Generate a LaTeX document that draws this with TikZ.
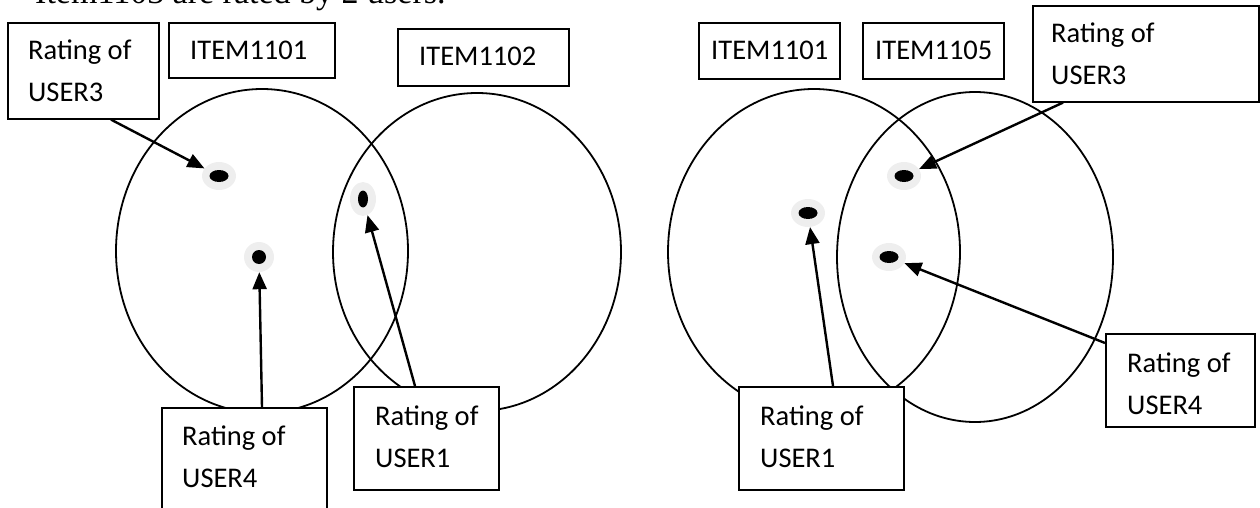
\documentclass[tikz,border=0pt]{standalone}
\usepackage{fontspec}
\setmainfont{Carlito}
\newfontfamily\bodyserif{Liberation Serif}
\usetikzlibrary{arrows.meta,calc,shapes.geometric}
\definecolor{halogray}{RGB}{238,238,238}
\newcommand\twoline[2]{\vtop{\hbox{#1}\hbox{#2}}}

\begin{document}
\begin{tikzpicture}[x=1pt,y=-1pt,
  box/.style={draw, fill=white, line width=1.6pt, inner sep=0pt, anchor=north west},
  ring/.style={ellipse, draw, line width=1.8pt, inner sep=0pt},
  halo/.style={ellipse, fill=halogray, inner sep=0pt},
  blob/.style={ellipse, fill=black, inner sep=0pt},
  arr/.style={line width=2.4pt, -{Triangle[length=17pt,width=14pt]}},
  txt/.style={anchor=base west, inner sep=0pt, font=\fontsize{28.5}{42}\selectfont},
]
\useasboundingbox (0,0) rectangle (1260,508);

% caption line running into the top edge
\node[anchor=base west, inner sep=0pt, font=\bodyserif\fontsize{34}{40}\selectfont]
  (cap) at (35,4) {Item1103 are rated by 2 users.};

% ---------- circles ----------
\node[ring, minimum width=292pt, minimum height=324pt] (cA) at (262,251) {};
\node[ring, minimum width=288pt, minimum height=318pt] (cB) at (477,252) {};
\node[ring, minimum width=292pt, minimum height=326pt] (cC) at (814,252) {};
\node[ring, minimum width=276pt, minimum height=330pt] (cD) at (975,257) {};

% ---------- left pair: ITEM1101 / ITEM1102 ----------
\node[box, minimum width=151pt, minimum height=96pt] (lu3) at (7,22) {};
\node[txt] at ($(lu3.north west)+(21,38)$) {\twoline{Rating of}{USER3}};
\node[box, minimum width=166pt, minimum height=55pt] (li1) at (168,22) {};
\node[txt] at ($(li1.north west)+(22,38)$) {ITEM1101};
\node[box, minimum width=171pt, minimum height=57pt] (li2) at (397,28) {};
\node[txt] at ($(li2.north west)+(22,38)$) {ITEM1102};
\node[box, minimum width=165pt, minimum height=120pt] (lu4) at (161,407) {};
\node[txt] at ($(lu4.north west)+(21,38)$) {\twoline{Rating of}{USER4}};
\node[box, minimum width=145pt, minimum height=103pt] (lu1) at (353,386) {};
\node[txt] at ($(lu1.north west)+(22,39)$) {\twoline{Rating of}{USER1}};

\node[halo, minimum width=34pt, minimum height=28pt] (ld3) at (219,176) {};
\node[blob, minimum width=19pt, minimum height=12pt] at (ld3) {};
\node[halo, minimum width=26pt, minimum height=34pt] (ld1) at (363,199) {};
\node[blob, minimum width=10pt, minimum height=17pt] at (ld1) {};
\node[halo, minimum width=30pt, minimum height=30pt] (ld4) at (259,257) {};
\node[blob, minimum width=14pt, minimum height=14pt] at (ld4) {};

\coordinate (lu3s) at ($(lu3.south west)+(104,0)$);
\coordinate (lu4s) at ($(lu4.north west)+(101,0)$);
\coordinate (lu1s) at ($(lu1.north west)+(62,0)$);
\draw[arr] (lu3s) -- (ld3);
\draw[arr] (lu4s) -- (ld4);
\draw[arr] (lu1s) -- (ld1);

% ---------- right pair: ITEM1101 / ITEM1105 ----------
\node[box, minimum width=141pt, minimum height=56pt] (ri1) at (698,22) {};
\node[txt] at ($(ri1.north west)+(13,38)$) {ITEM1101};
\node[box, minimum width=141pt, minimum height=56pt] (ri5) at (862,22) {};
\node[txt] at ($(ri5.north west)+(13,38)$) {ITEM1105};
\node[box, minimum width=226pt, minimum height=96pt] (ru3) at (1032,5) {};
\node[txt] at ($(ru3.north west)+(19,38)$) {\twoline{Rating of}{USER3}};
\node[box, minimum width=149pt, minimum height=93pt] (ru4) at (1105,333) {};
\node[txt] at ($(ru4.north west)+(22,39)$) {\twoline{Rating of}{USER4}};
\node[box, minimum width=165pt, minimum height=103pt] (ru1) at (738,386) {};
\node[txt] at ($(ru1.north west)+(22,39)$) {\twoline{Rating of}{USER1}};

\node[halo, minimum width=34pt, minimum height=28pt] (rd3) at (904,176) {};
\node[blob, minimum width=19pt, minimum height=12pt] at (rd3) {};
\node[halo, minimum width=34pt, minimum height=28pt] (rd1) at (808,213) {};
\node[blob, minimum width=19pt, minimum height=12pt] at (rd1) {};
\node[halo, minimum width=34pt, minimum height=28pt] (rd4) at (889,257) {};
\node[blob, minimum width=19pt, minimum height=12pt] at (rd4) {};

\coordinate (ru3s) at ($(ru3.south west)+(31,0)$);
\coordinate (ru4s) at ($(ru4.north west)+(0,10)$);
\coordinate (ru1s) at ($(ru1.north west)+(95,0)$);
\draw[arr] (ru3s) -- (rd3);
\draw[arr] (ru4s) -- (rd4);
\draw[arr] (ru1s) -- (rd1);
\end{tikzpicture}
\end{document}
